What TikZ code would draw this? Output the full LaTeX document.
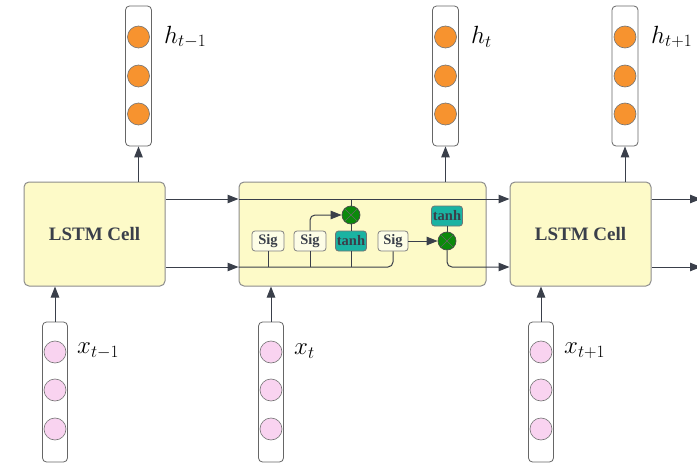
\documentclass[tikz,border=0pt]{standalone}
\usepackage{fontspec}
\setmainfont{Liberation Serif}
\usetikzlibrary{arrows.meta}
\definecolor{cellfill}{HTML}{FDFAC8}
\definecolor{cellline}{HTML}{8C8C8C}
\definecolor{ink}{HTML}{3A3F4A}
\definecolor{hfill}{HTML}{F7932F}
\definecolor{xfill}{HTML}{F9D3F0}
\definecolor{gatefill}{HTML}{FDFDE6}
\definecolor{tealfill}{HTML}{1AB3A2}
\definecolor{multfill}{HTML}{0B8A0B}
\tikzset{
  cellbox/.style={draw=cellline, fill=cellfill, rounded corners=5pt, line width=1pt,
    minimum width=141pt, minimum height=104pt, inner sep=0pt, text=ink,
    font=\fontsize{19}{22}\selectfont\bfseries},
  vecbox/.style={draw=black!60, fill=white, rounded corners=4pt, line width=0.8pt,
    minimum width=26pt, minimum height=140pt, inner sep=0pt},
  hdot/.style={circle, draw=black!55, fill=hfill, minimum size=22pt, inner sep=0pt, line width=0.6pt},
  xdot/.style={circle, draw=black!55, fill=xfill, minimum size=22pt, inner sep=0pt, line width=0.6pt},
  gatebox/.style={draw=black!50, fill=gatefill, rounded corners=3pt, line width=0.8pt,
    minimum width=32pt, minimum height=20pt, inner sep=0pt, text=ink,
    font=\fontsize{14.5}{16}\selectfont\bfseries},
  tanhbox/.style={gatebox, fill=tealfill, draw=black!55},
  mult/.style={circle, draw=black!70, fill=multfill, minimum size=18pt, inner sep=0pt, line width=0.7pt,
    path picture={\draw[black!60, line width=0.7pt]
      (path picture bounding box.north west) -- (path picture bounding box.south east)
      (path picture bounding box.north east) -- (path picture bounding box.south west);}},
  conn/.style={draw=ink, line width=1pt},
  arr/.style={conn, -{Triangle[length=11pt,width=8.5pt]}},
  hlab/.style={anchor=west, inner sep=0pt, font=\fontsize{23}{27}\selectfont},
  xlab/.style={anchor=west, inner sep=0pt, font=\fontsize{24}{28}\selectfont}
}
\begin{document}
\begin{tikzpicture}[x=1pt,y=-1pt]
\useasboundingbox (0,0) rectangle (697,463);
% cells
\node[cellbox] (c1) at (94.5,234) {LSTM Cell};
\node[cellbox, minimum width=247pt] (c2) at (362.5,234) {};
\node[cellbox] (c3) at (580.5,234) {LSTM Cell};
% line levels
\coordinate (u) at (0,199);
\coordinate (l) at (0,267);
\coordinate (eu) at (701,199);
\coordinate (el) at (701,267);
% h vectors
\foreach \n/\x in {h1/138.5, h2/445.5, h3/625} {
  \node[vecbox] (\n) at (\x,76) {};
  \node[hdot] (\n a) at (\x,37) {};
  \node[hdot] (\n b) at (\x,76) {};
  \node[hdot] (\n c) at (\x,114) {};
}
% x vectors
\foreach \n/\x in {x1/55, x2/271, x3/541} {
  \node[vecbox, minimum width=25pt] (\n) at (\x,392) {};
  \node[xdot] (\n a) at (\x,352) {};
  \node[xdot] (\n b) at (\x,390) {};
  \node[xdot] (\n c) at (\x,429) {};
}
% labels
\node[hlab] (lh1) at (164,37) {$h_{t-1}$};
\node[hlab] (lh2) at (471,37) {$h_{t}$};
\node[hlab] (lh3) at (651,37) {$h_{t+1}$};
\node[xlab] (lx1) at (77,351) {$x_{t-1}$};
\node[xlab] (lx2) at (294,351) {$x_{t}$};
\node[xlab] (lx3) at (564,351) {$x_{t+1}$};
% vertical arrows
\draw[arr] (c1.north -| h1) -- (h1);
\draw[arr] (c2.north -| h2) -- (h2);
\draw[arr] (c3.north -| h3) -- (h3);
\draw[arr] (x1) -- (c1.south -| x1);
\draw[arr] (x2) -- (c2.south -| x2);
\draw[arr] (x3) -- (c3.south -| x3);
% gates inside middle cell
\node[gatebox] (s1) at (268,241) {Sig};
\node[gatebox] (s2) at (310,241) {Sig};
\node[tanhbox, minimum width=31pt] (t1) at (351,241) {tanh};
\node[gatebox, minimum width=30pt] (s4) at (393,241) {Sig};
\node[mult] (m1) at (351,215) {};
\node[mult] (m2) at (447,241) {};
\node[tanhbox, minimum width=31pt] (t2) at (447,216) {tanh};
% horizontal flows
\draw[arr] (c1.east |- u) -- (c2.west |- u);
\draw[arr] (c1.east |- l) -- (c2.west |- l);
\draw[arr] (c2.west |- u) -- (c3.west |- u);
\draw[conn, rounded corners=5pt] (c2.west |- l) -- (s4.south |- l) -- (s4.south);
\draw[conn] (s1.south) -- (s1.south |- l);
\draw[conn] (s2.south) -- (s2.south |- l);
\draw[conn] (t1.south) -- (t1.south |- l);
\draw[arr, rounded corners=5pt] (s2.north) -- (s2.north |- m1) -- (m1.west);
\draw[conn] (m1.north) -- (m1.north |- u);
\draw[conn] (t1.north) -- (m1.south);
\draw[arr] (s4.east) -- (m2.west);
\draw[conn] (t2.south) -- (m2.north);
\draw[arr, rounded corners=5pt] (m2.south) -- (m2.south |- l) -- (c3.west |- l);
\draw[arr] (c3.east |- u) -- (eu);
\draw[arr] (c3.east |- l) -- (el);
\end{tikzpicture}
\end{document}
